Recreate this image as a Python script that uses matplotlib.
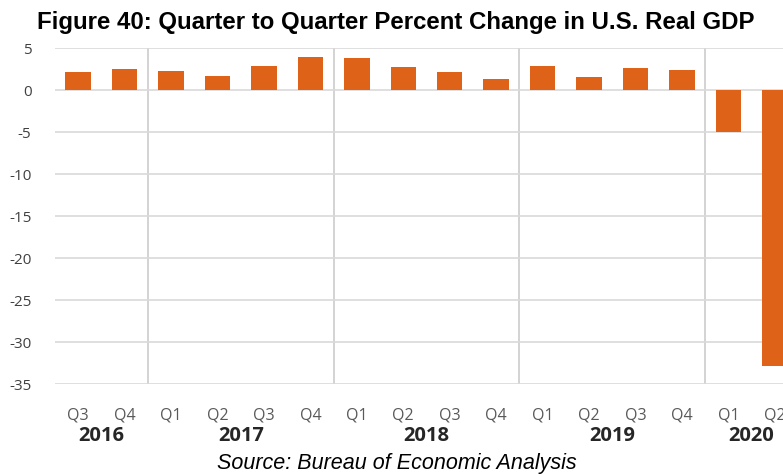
import matplotlib.pyplot as plt
import numpy as np

# Quarterly data
quarters = ['Q3', 'Q4',
            'Q1', 'Q2', 'Q3', 'Q4',
            'Q1', 'Q2', 'Q3', 'Q4',
            'Q1', 'Q2', 'Q3', 'Q4',
            'Q1', 'Q2']
years = ['2016', '2017', '2018', '2019', '2020']
quarters_per_year = [2, 4, 4, 4, 2]
gdp_change = [2.2, 2.5,
              2.3, 1.7, 2.9, 3.9,
              3.8, 2.7, 2.1, 1.3,
              2.9, 1.5, 2.6, 2.4,
              -5.0, -32.9]

bar_color = '#DE6319'
grid_color = '#D9D9D9'
label_color = '#595959'

fig = plt.figure(figsize=(7.83, 4.74), dpi=100)
W, H = 783, 474
# axes runs a bit past the right edge, like the cropped original
ax = fig.add_axes([55 / W, 1 - 384 / H, (798 - 55) / W, (384 - 48) / H])

x = np.arange(len(gdp_change))
ax.bar(x, gdp_change, width=0.55, color=bar_color, zorder=3)

ax.set_xlim(-0.5, len(x) - 0.5)
ax.set_ylim(-35, 5)
ax.set_yticks(np.arange(-35, 6, 5))
ax.set_yticklabels([str(v) for v in range(-35, 6, 5)],
                   family='Open Sans', fontsize=11, color='#404040')
ax.tick_params(axis='y', length=0, pad=17)

ax.set_xticks(x)
ax.set_xticklabels(quarters, family='Open Sans', fontsize=11.5, color=label_color)
ax.tick_params(axis='x', length=0, pad=17)

for s in ax.spines.values():
    s.set_visible(False)
ax.grid(axis='y', color=grid_color, linewidth=1.2, zorder=0)

# year separators and labels
edges = np.cumsum(quarters_per_year)
for e in edges[:-1]:
    ax.axvline(e - 0.5, color='#CCCCCC', linewidth=1.2, zorder=1)
starts = np.concatenate([[0], edges[:-1]])
for yr, s0, n in zip(years, starts, quarters_per_year):
    ax.text(s0 + (n - 1) / 2, -0.155, yr, transform=ax.get_xaxis_transform(),
            ha='center', va='center', family='Open Sans', fontweight='bold',
            fontsize=14.5, color='#262626', clip_on=False)

fig.text(396 / W, 1 - 22 / H, 'Figure 40: Quarter to Quarter Percent Change in U.S. Real GDP',
         ha='center', va='center', family='Liberation Sans', fontweight='bold',
         fontsize=17.3, color='black')
fig.text(397 / W, 1 - 464 / H, 'Source: Bureau of Economic Analysis',
         ha='center', va='center', family='Liberation Sans', style='italic',
         fontsize=15.5, color='black')

fig.savefig('out.png', dpi=100)
